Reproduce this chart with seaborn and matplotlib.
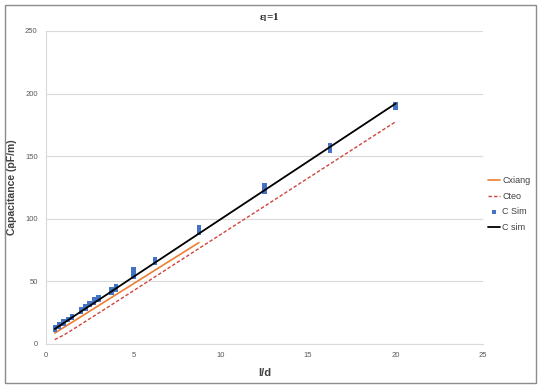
import numpy as np
import pandas as pd
import matplotlib
matplotlib.use("Agg")
import matplotlib.pyplot as plt
import seaborn as sns
from matplotlib.patches import Rectangle

# C Sim (simulated points, a few runs per l/d)
sim_x = [0.5, 0.5, 0.75, 0.75, 1.0, 1.0, 1.25, 1.25, 1.5, 1.5, 2.0, 2.0,
         2.25, 2.25, 2.5, 2.5, 2.75, 2.75, 2.75, 3.0, 3.0, 3.75, 3.75, 3.75, 4.0, 4.0, 4.0,
         5.0, 5.0, 5.0, 5.0, 6.25, 6.25, 6.25, 8.75, 8.75, 8.75, 12.5, 12.5, 12.5,
         16.25, 16.25, 16.25, 20.0, 20.0]
sim_y = [11.5, 13.5, 14.0, 15.5, 16.5, 18.0, 19.0, 20.0, 21.0, 22.5, 26.0, 27.5,
         28.5, 30.0, 31.0, 32.5, 33.0, 34.3, 35.5, 35.5, 37.0, 41.0, 42.5, 44.0, 43.0, 44.5, 46.0,
         54.0, 56.0, 58.0, 60.0, 64.5, 66.0, 67.5, 88.5, 91.0, 93.5, 121.5, 124.0, 126.5,
         154.5, 156.8, 159.0, 189.0, 191.5]

# C sim (fitted line)
fit_x = [0.5, 1, 1.5, 2, 2.5, 3, 3.75, 5, 6.25, 8.75, 12.5, 16.25, 20]
fit_y = [12.0, 16.6, 21.3, 25.9, 30.5, 35.1, 42.0, 53.6, 65.1, 88.2, 122.8, 157.4, 192.0]

# Cxiang
xiang_x = [0.5, 1, 1.5, 2, 2.5, 3, 3.75, 5, 6.25, 8.75]
xiang_y = [8.7, 13.1, 17.4, 21.8, 26.2, 30.6, 37.2, 48.1, 59.1, 81.0]

# Cteo
teo_x = [0.5, 1, 1.5, 2, 2.5, 3, 3.75, 5, 6.25, 8.75, 12.5, 16.25, 20]
teo_y = [3.5, 7.0, 11.3, 15.7, 20.2, 24.6, 31.3, 42.5, 53.8, 76.3, 110.0, 143.8, 177.5]

x_ticks = [0, 5, 10, 15, 20, 25]
y_ticks = [0, 50, 100, 150, 200, 250]

sns.set_style("white")
plt.rcParams['font.family'] = ['Liberation Sans', 'DejaVu Sans']

fig = plt.figure(figsize=(5.39, 3.85), dpi=100)
ax = fig.add_axes([0.0853, 0.1065, 0.8108, 0.813])

grid_c = '#D9D9D9'
tick_c = '#595959'
text_c = '#404040'

sns.lineplot(x=xiang_x, y=xiang_y, ax=ax, color='#ED7D31', lw=1.2, label='Cxiang')
sns.lineplot(x=teo_x, y=teo_y, ax=ax, color='#D0443A', lw=1.0, linestyle=(0, (2.5, 1.5)), label='Cteo')
sns.scatterplot(x=sim_x, y=sim_y, ax=ax, color='#4472C4', marker='s', s=10,
                edgecolor='none', label='C Sim', zorder=3)
sns.lineplot(x=fit_x, y=fit_y, ax=ax, color='black', lw=1.3, label='C sim', zorder=4)

ax.set_xlim(0, 25)
ax.set_ylim(0, 250)
ax.set_xticks(x_ticks)
ax.set_yticks(y_ticks)
ax.tick_params(axis='both', length=0, labelsize=5.5, colors=tick_c, pad=6)
ax.yaxis.grid(True, color=grid_c, lw=0.8)
ax.xaxis.grid(False)
for s in ['top', 'right']:
    ax.spines[s].set_visible(False)
for s in ['left', 'bottom']:
    ax.spines[s].set_color(grid_c)
    ax.spines[s].set_linewidth(0.8)

ax.set_xlabel('l/d', fontsize=8, fontweight='bold', color=text_c, labelpad=6)
ax.set_ylabel('Capacitance (pF/m)', fontsize=7.5, fontweight='bold', color=text_c, labelpad=6)

fig.text(0.5, 0.955, r'$\mathregular{\varepsilon_l}$=1', ha='center', va='center',
         fontsize=8, fontweight='bold', family=['Liberation Serif', 'DejaVu Serif'])

handles, labels = ax.get_legend_handles_labels()
ax.legend_.remove()
leg = fig.legend(handles, labels, loc='center left', bbox_to_anchor=(0.905, 0.47),
                 frameon=False, fontsize=6.5, handlelength=1.4, handletextpad=0.2,
                 labelspacing=0.75, borderaxespad=0, borderpad=0)
for t in leg.get_texts():
    t.set_color(text_c)

fig.patches.append(Rectangle((5 / 539, 2 / 385), 531 / 539, 378 / 385, transform=fig.transFigure,
                             fill=False, edgecolor='#8C8C8C', lw=1.0))

fig.savefig('out.png', dpi=100)
